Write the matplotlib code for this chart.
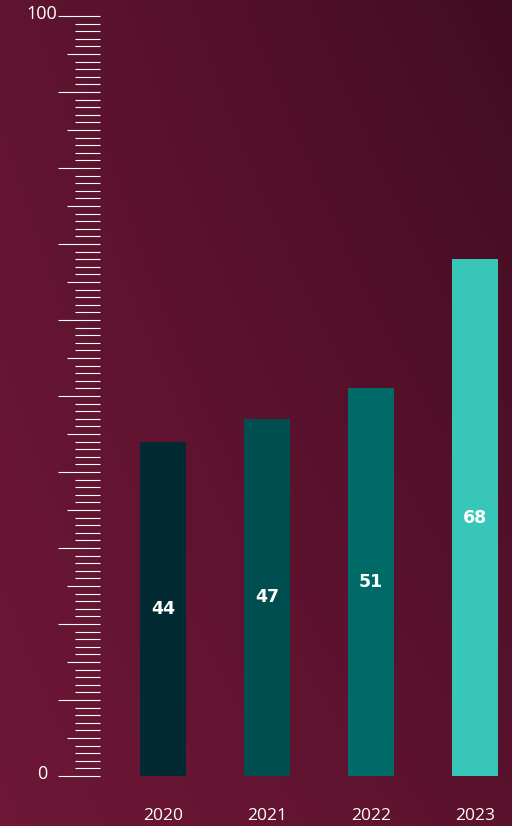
import numpy as np
import matplotlib.pyplot as plt
from matplotlib.colors import to_rgb
from matplotlib.transforms import blended_transform_factory

years = ['2020', '2021', '2022', '2023']
values = [44, 47, 51, 68]
bar_colors = ['#012A33', '#004E50', '#006A67', '#37C6B8']

W, H = 512, 826
fig = plt.figure(figsize=(W / 100, H / 100), dpi=100)

# fondo degradado (esquinas: sup-izq, sup-der, inf-izq, inf-der)
bg = fig.add_axes([0, 0, 1, 1])
tl, tr = np.array(to_rgb('#601430')), np.array(to_rgb('#420C21'))
bl, br = np.array(to_rgb('#6E1736')), np.array(to_rgb('#5A122D'))
u = np.linspace(0, 1, 200)[None, :, None]
v = np.linspace(0, 1, 300)[:, None, None]
img = (1 - v) * ((1 - u) * tl + u * tr) + v * ((1 - u) * bl + u * br)
bg.imshow(img, aspect='auto', extent=[0, 1, 0, 1], interpolation='bilinear')
bg.axis('off')

# ejes: y=0 en el pixel 776, y=100 en el 16, regla termina en x=100
ax = fig.add_axes([100 / W, (H - 776) / H, (W - 100) / W, 760 / H])
ax.patch.set_alpha(0)
x = np.arange(len(years))
ax.bar(x, values, width=0.442, color=bar_colors, zorder=3)
ax.set_xlim((100 - 163) / 104, (512 - 163) / 104)
ax.set_ylim(0, 100)

for xi, val in zip(x, values):
    ax.text(xi, val / 2, str(val), ha='center', va='center', color='white',
            fontsize=12.5, fontweight='bold', family='DejaVu Sans')

for sp_ in ax.spines.values():
    sp_.set_visible(False)
ax.set_xticks([])
ax.set_yticks([])

# regla del eje y: cada 1, media cada 5, larga cada 10
trans = blended_transform_factory(fig.transFigure, ax.transData)
for t in range(0, 101):
    if t % 10 == 0:
        x0 = 58
    elif t % 5 == 0:
        x0 = 67
    else:
        x0 = 75
    ax.plot([x0 / W, 100 / W], [t, t], color='white', lw=0.8,
            transform=trans, clip_on=False, solid_capstyle='butt')

for t, lbl in [(0, '0'), (100, '100')]:
    ax.text(42 / W, t + 0.3, lbl, transform=trans, ha='center', va='center',
            color='white', fontsize=13, family='Open Sans')

for xi, yr in zip(x, years):
    ax.text(xi, -5.3, yr, ha='center', va='center', color='white',
            fontsize=12.5, family='Open Sans', clip_on=False)

plt.savefig('out.png', dpi=100)
